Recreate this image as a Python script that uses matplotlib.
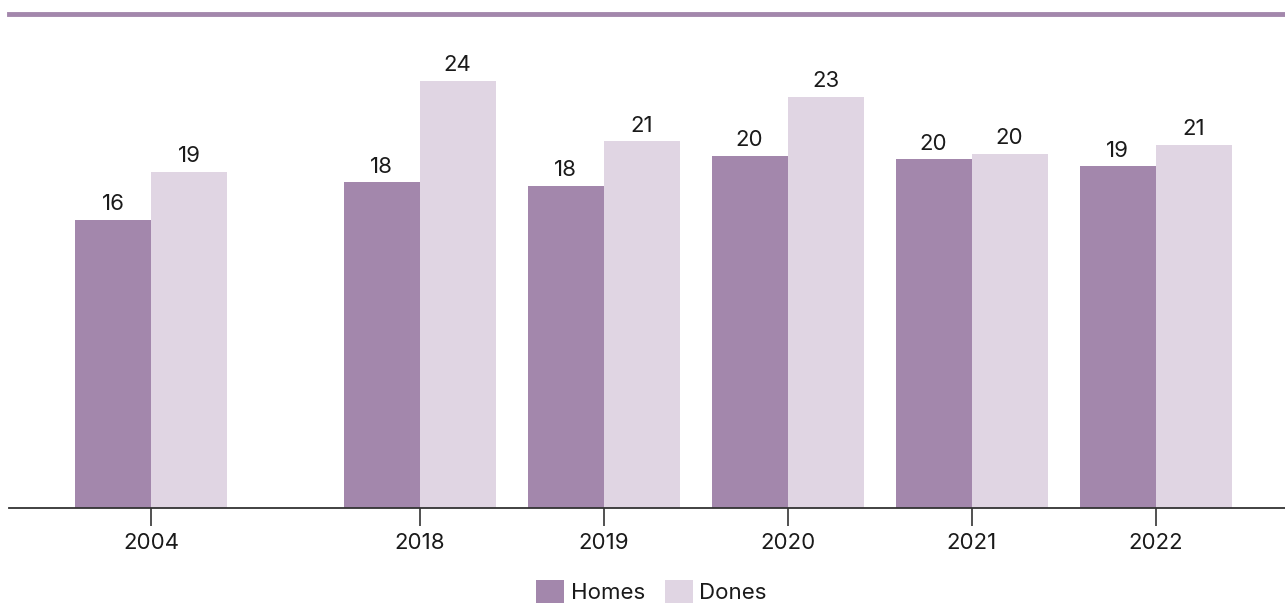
import matplotlib
import matplotlib.pyplot as plt
from matplotlib.lines import Line2D

matplotlib.use("Agg")

years = ["2004", "2018", "2019", "2020", "2021", "2022"]
homes = [16.2, 18.3, 18.1, 19.8, 19.6, 19.2]
dones = [18.9, 24.0, 20.6, 23.1, 19.9, 20.4]
homes_labels = ["16", "18", "18", "20", "20", "19"]
dones_labels = ["19", "24", "21", "23", "20", "21"]

HOMES_COLOR = "#a387ac"
DONES_COLOR = "#e0d5e3"
TEXT_COLOR = "#1a1a1a"

plt.rcParams["font.family"] = ["Inter", "DejaVu Sans"]

fig = plt.figure(figsize=(12.85, 6.03), dpi=100)
ax = fig.add_axes([9 / 1285, 95 / 603, 1276 / 1285, 494 / 603])

# 2004 sits a bit further from the rest of the years
gap = 1.46
xs = [0] + [gap + i for i in range(len(years) - 1)]
w = 0.413

b1 = ax.bar([x - w / 2 for x in xs], homes, w, color=HOMES_COLOR, label="Homes")
b2 = ax.bar([x + w / 2 for x in xs], dones, w, color=DONES_COLOR, label="Dones")

for bars, labels in ((b1, homes_labels), (b2, dones_labels)):
    for rect, lab in zip(bars, labels):
        ax.annotate(lab, (rect.get_x() + rect.get_width() / 2, rect.get_height()),
                    xytext=(0, 4), textcoords="offset points",
                    ha="center", va="bottom", fontsize=16, color=TEXT_COLOR)

ax.set_xlim(-0.772, 6.163)
ax.set_ylim(0, 27.75)
ax.set_xticks(xs)
ax.set_xticklabels(years, fontsize=16, color=TEXT_COLOR)
ax.tick_params(axis="x", length=13, width=1.2, color="#333333", pad=5)
ax.set_yticks([])
for side in ("top", "right", "left"):
    ax.spines[side].set_visible(False)
ax.spines["bottom"].set_color("#333333")
ax.spines["bottom"].set_linewidth(1.3)

# purple rule across the top
fig.add_artist(Line2D([9 / 1285, 1], [1 - 14 / 603] * 2, color=HOMES_COLOR, linewidth=3.5))

fig.legend(handles=[b1, b2], loc="center", bbox_to_anchor=(651.5 / 1285, 1 - 592 / 603),
           ncol=2, frameon=False, fontsize=16, handlelength=1.25, handleheight=1.25,
           handletextpad=0.3, columnspacing=0.9, labelcolor=TEXT_COLOR)

fig.savefig("out.png", dpi=100)
